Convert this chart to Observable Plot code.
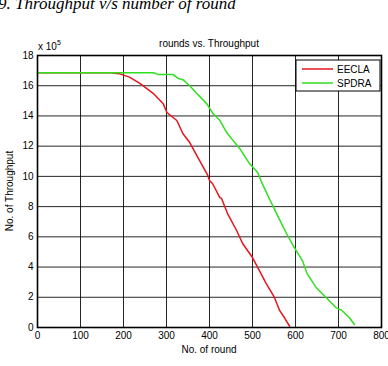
<!DOCTYPE html>
<html>
<head>
<meta charset="utf-8">
<script src="https://cdn.jsdelivr.net/npm/d3@7"></script>
<script src="https://cdn.jsdelivr.net/npm/@observablehq/plot@0.6"></script>
<style>
  html, body { margin: 0; padding: 0; background: #fff; overflow: hidden; }
  #chart svg { display: block; }
</style>
</head>
<body>
<div id="chart"></div>
<script>
// ---- data (throughput in units of 10^5) ----
const seriesNames = ["EECLA", "SPDRA"];
const seriesColors = ["#e8141c", "#2ee01e"];

const eeclaRound = [0, 100, 170, 190, 215, 238, 269, 292, 301, 324, 338, 354, 377, 396, 400, 407, 424, 428, 442, 463, 477, 500, 516, 532, 551, 563, 574, 586];
const eeclaThroughput = [16.86, 16.86, 16.86, 16.8, 16.55, 16.15, 15.5, 14.83, 14.23, 13.7, 12.84, 12.24, 11.05, 10.06, 9.73, 9.53, 8.6, 8.54, 7.54, 6.42, 5.56, 4.63, 3.77, 2.91, 1.99, 1.13, 0.66, 0.1];

const spdraRound = [0, 100, 200, 270, 280, 315, 326, 338, 354, 370, 394, 407, 424, 440, 454, 470, 493, 512, 523, 539, 556, 579, 597, 616, 627, 648, 671, 694, 708, 725, 737];
const spdraThroughput = [16.86, 16.86, 16.86, 16.86, 16.75, 16.75, 16.5, 16.4, 16.0, 15.5, 14.8, 14.2, 13.7, 12.9, 12.4, 11.85, 10.85, 10.26, 9.5, 8.54, 7.54, 6.22, 5.3, 4.43, 3.57, 2.65, 1.99, 1.32, 1.13, 0.66, 0.2];

const xTicks = [0, 100, 200, 300, 400, 500, 600, 700, 800];
const yTicks = [0, 2, 4, 6, 8, 10, 12, 14, 16, 18];

const chartTitle = "rounds vs. Throughput";
const xLabel = "No. of round";
const yLabel = "No. of Throughput";
const caption = "9. Throughput v/s number of round";

// ---- build table ----
const rows = [];
eeclaRound.forEach((r, i) => rows.push({series: seriesNames[0], round: r, value: eeclaThroughput[i]}));
spdraRound.forEach((r, i) => rows.push({series: seriesNames[1], round: r, value: spdraThroughput[i]}));

const W = 388, H = 366;
const mL = 37, mR = 7, mT = 55, mB = 39;
const FS = 10;

const chart = Plot.plot({
  width: W,
  height: H,
  marginLeft: mL,
  marginRight: mR,
  marginTop: mT,
  marginBottom: mB,
  style: {fontFamily: "'Liberation Sans', Arial, sans-serif", fontSize: FS + "px", color: "#000", background: "#fff", overflow: "visible"},
  x: {domain: [0, 800]},
  y: {domain: [0, 18]},
  color: {domain: seriesNames, range: seriesColors},
  marks: [
    Plot.gridX(xTicks, {stroke: "#000", strokeOpacity: 0.85, strokeWidth: 1}),
    Plot.gridY(yTicks, {stroke: "#000", strokeOpacity: 0.85, strokeWidth: 1}),
    Plot.axisX(xTicks, {tickSize: 0, tickPadding: 4, label: null, fill: "#000"}),
    Plot.axisY(yTicks, {tickSize: 0, tickPadding: 4, label: null, fill: "#000"}),
    Plot.line(rows.filter(d => d.series === seriesNames[0]), {x: "round", y: "value", stroke: "series", strokeWidth: 1.5}),
    Plot.line(rows.filter(d => d.series === seriesNames[1]), {x: "round", y: "value", stroke: "series", strokeWidth: 1.5}),
    Plot.frame({stroke: "#000", strokeWidth: 1.6})
  ]
});

document.getElementById("chart").appendChild(chart);

// ---- annotations ----
const svg = d3.select(chart);
const sans = "'Liberation Sans', Arial, sans-serif";
const cx = mL + (W - mL - mR) / 2;

svg.append("text")
  .attr("x", -2).attr("y", 9).attr("text-anchor", "start")
  .attr("font-family", "'Liberation Serif', 'Times New Roman', serif")
  .attr("font-style", "italic").attr("font-size", 17).attr("fill", "#000")
  .text(caption);

svg.append("text")
  .attr("x", cx).attr("y", 47).attr("text-anchor", "middle")
  .attr("font-family", sans).attr("font-size", FS).attr("fill", "#000")
  .text(chartTitle);

const exp = svg.append("text")
  .attr("x", 38).attr("y", 50).attr("text-anchor", "start")
  .attr("font-family", sans).attr("font-size", FS).attr("fill", "#000");
exp.append("tspan").text("x 10");
exp.append("tspan").attr("dy", -5).attr("font-size", 7).text("5");

svg.append("text")
  .attr("x", cx).attr("y", 353).attr("text-anchor", "middle")
  .attr("font-family", sans).attr("font-size", FS).attr("fill", "#000")
  .text(xLabel);

svg.append("text")
  .attr("transform", `translate(13,${mT + (H - mT - mB) / 2}) rotate(-90)`)
  .attr("text-anchor", "middle")
  .attr("font-family", sans).attr("font-size", FS).attr("fill", "#000")
  .text(yLabel);

// legend
const lg = svg.append("g");
lg.append("rect").attr("x", 296).attr("y", 60).attr("width", 84).attr("height", 31)
  .attr("fill", "#fff").attr("stroke", "#000").attr("stroke-width", 1);
seriesNames.forEach((name, i) => {
  const y = 69 + i * 14;
  lg.append("line").attr("x1", 302).attr("x2", 333).attr("y1", y).attr("y2", y)
    .attr("stroke", seriesColors[i]).attr("stroke-width", 1.5);
  lg.append("text").attr("x", 337).attr("y", y + 3.5).attr("text-anchor", "start")
    .attr("font-family", sans).attr("font-size", FS).attr("fill", "#000")
    .text(name);
});
</script>
</body>
</html>
